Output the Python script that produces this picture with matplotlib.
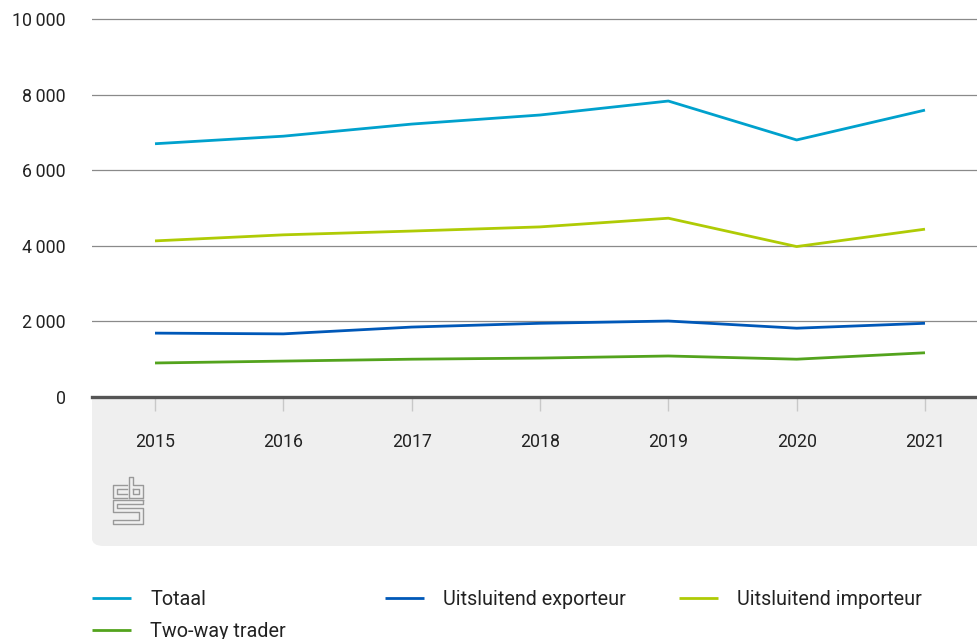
import numpy as np
import matplotlib.pyplot as plt
from matplotlib.patches import FancyBboxPatch
from matplotlib.lines import Line2D
from matplotlib.ticker import FuncFormatter

plt.rcParams['font.family'] = ['Roboto', 'DejaVu Sans']

years = [2015, 2016, 2017, 2018, 2019, 2020, 2021]
totaal = [6700, 6900, 7220, 7460, 7830, 6800, 7590]
exporteur = [1690, 1670, 1850, 1950, 2010, 1820, 1950]
importeur = [4130, 4290, 4390, 4500, 4730, 3980, 4440]
two_way = [900, 950, 1000, 1030, 1085, 1000, 1170]

labels = ['Totaal', 'Uitsluitend exporteur', 'Uitsluitend importeur', 'Two-way trader']
colors = ['#00a1cd', '#0058b8', '#afcb05', '#53a31d']
yticks = [0, 2000, 4000, 6000, 8000, 10000]

W, H = 977, 639
fig = plt.figure(figsize=(W / 100, H / 100), dpi=100)


def fx(px):
    return px / W


def fy(py):
    return 1 - py / H


# grey panel under the x axis
panel = FancyBboxPatch((fx(92), fy(546)), fx(1000 - 92), fy(360) - fy(546),
                       boxstyle='round,pad=0,rounding_size=0.012',
                       transform=fig.transFigure, facecolor='#efefef',
                       edgecolor='none', zorder=0)
fig.patches.append(panel)

ax = fig.add_axes([fx(92), fy(397), 1 - fx(92), fy(15) - fy(397)], zorder=1)
ax.set_facecolor('white')

for vals, lab, c in zip([totaal, exporteur, importeur, two_way], labels, colors):
    ax.plot(years, vals, color=c, lw=2.0, label=lab, solid_capstyle='butt')

ax.set_xlim(2015 - 63 / 128.3, 2021 + 52 / 128.3)
ax.set_ylim(0, 10000 + 4 / 37.8 * 1000)
ax.set_yticks(yticks)
ax.yaxis.set_major_formatter(FuncFormatter(lambda v, p: f'{int(v):,}'.replace(',', '\u2009')))
ax.set_xticks(years)
ax.grid(axis='y', color='#8a8a8a', lw=0.9)
ax.set_axisbelow(True)

for s in ['top', 'right', 'left']:
    ax.spines[s].set_visible(False)
ax.spines['bottom'].set_color('#555555')
ax.spines['bottom'].set_linewidth(2.4)

ax.tick_params(axis='y', length=0, pad=19, labelsize=12.8, labelcolor='#222222')
ax.tick_params(axis='x', length=10, width=1, color='#c8c8c8', pad=16,
               labelsize=12.8, labelcolor='#222222')

# cbs logo
logo = [
    [(127, 485), (113, 485), (113, 498), (127, 498)],
    [(127, 489), (117, 489), (117, 494), (127, 494)],
    [(129, 498), (129, 477), (133, 477), (133, 485), (143, 485), (143, 498), (129, 498)],
    [(133, 489), (139, 489), (139, 494), (133, 494), (133, 489)],
    [(143, 500), (113, 500), (113, 512), (139, 512), (139, 520), (113, 520),
     (113, 524), (143, 524), (143, 508), (117, 508), (117, 504), (143, 504), (143, 500)],
]
for pts in logo:
    xs = [fx(p[0]) for p in pts]
    ys = [fy(p[1]) for p in pts]
    fig.add_artist(Line2D(xs, ys, color='#999999', lw=1.0, transform=fig.transFigure))

# legend
handles = ax.get_lines()
leg_kw = dict(frameon=False, fontsize=14.2, handlelength=2.0, handletextpad=0.95,
              labelspacing=0.65, borderaxespad=0, borderpad=0, labelcolor='#222222')
fig.legend([handles[0], handles[3]], [labels[0], labels[3]], loc='upper left',
           bbox_to_anchor=(fx(92), fy(590)), **leg_kw)
fig.legend([handles[1]], [labels[1]], loc='upper left',
           bbox_to_anchor=(fx(385), fy(590)), **leg_kw)
fig.legend([handles[2]], [labels[2]], loc='upper left',
           bbox_to_anchor=(fx(679), fy(590)), **leg_kw)

fig.savefig('out.png', dpi=100)
